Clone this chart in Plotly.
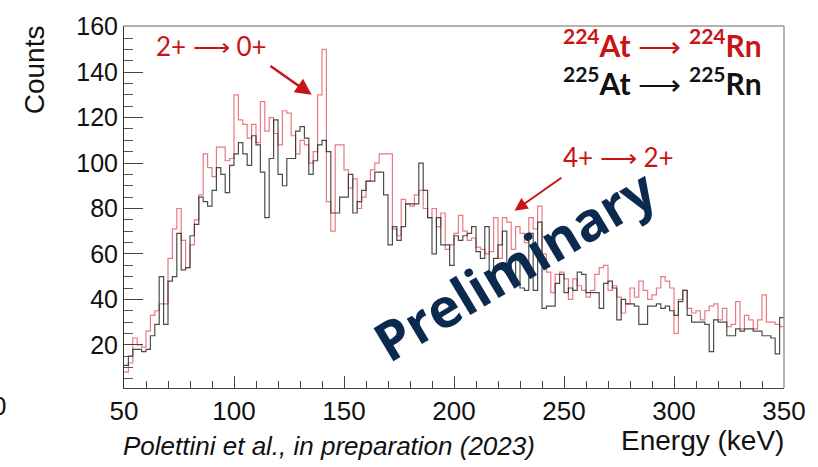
import numpy as np
import plotly.graph_objects as go

# 2 keV bins from 50 to 350 keV
bin_edges = list(range(50, 352, 2))

# 224At -> 224Rn gamma spectrum (counts per bin)
counts_224 = [
    8, 12, 23, 20, 19, 26, 33, 35, 38, 38,
    58, 71, 80, 66, 54, 64, 75, 86, 104, 98,
    94, 107, 107, 101, 102, 130, 119, 117, 111, 117,
    109, 127, 114, 120, 113, 108, 123, 122, 112, 104,
    110, 108, 100, 105, 130, 150, 83, 70, 108, 108,
    97, 89, 93, 80, 85, 92, 97, 100, 104, 104,
    104, 71, 68, 84, 82, 81, 86, 88, 80, 76,
    80, 72, 78, 62, 64, 69, 77, 70, 66, 67,
    63, 62, 60, 61, 76, 58, 76, 74, 62, 72,
    69, 65, 76, 71, 81, 60, 52, 43, 51, 52,
    49, 40, 49, 46, 44, 41, 44, 51, 54, 55,
    44, 46, 41, 34, 38, 45, 41, 48, 44, 40,
    42, 45, 50, 48, 45, 25, 40, 44, 36, 34,
    35, 31, 35, 37, 38, 31, 36, 28, 29, 39,
    27, 33, 31, 27, 31, 42, 30, 30, 29, 28,
]

# 225At -> 225Rn gamma spectrum (counts per bin)
counts_225 = [
    11, 15, 18, 18, 17, 18, 24, 29, 50, 29,
    48, 50, 69, 53, 54, 68, 73, 85, 83, 81,
    88, 98, 95, 87, 99, 104, 109, 104, 99, 112,
    108, 96, 76, 102, 119, 95, 90, 102, 102, 114,
    116, 111, 95, 101, 108, 110, 105, 78, 78, 85,
    85, 95, 78, 83, 88, 92, 92, 96, 96, 86,
    64, 72, 66, 72, 82, 82, 82, 100, 88, 76,
    60, 76, 64, 64, 55, 68, 66, 68, 69, 72,
    61, 58, 72, 52, 58, 64, 70, 55, 50, 58,
    45, 44, 69, 44, 74, 36, 37, 37, 47, 51,
    43, 45, 44, 52, 51, 43, 43, 43, 36, 47,
    48, 45, 31, 40, 38, 38, 37, 29, 29, 37,
    37, 38, 36, 37, 35, 33, 39, 44, 33, 30,
    30, 30, 29, 17, 31, 30, 30, 24, 24, 27,
    26, 27, 27, 26, 26, 24, 24, 23, 16, 32,
]

y_ticks = [20, 40, 60, 80, 100, 120, 140, 160]
x_ticks = [50, 100, 150, 200, 250, 300, 350]

W, H = 818, 467
L, R, T, B = 124, 790, 13, 388


def px(x):
    return (x - L) / (R - L)


def py(y):
    return (B - y) / (B - T)


def step_xy(values):
    xs = list(bin_edges[:-1]) + [bin_edges[-1]]
    ys = list(values) + [values[-1]]
    return xs, ys


fig = go.Figure()
x224, y224 = step_xy(counts_224)
x225, y225 = step_xy(counts_225)
fig.add_trace(go.Scatter(x=x224, y=y224, mode="lines", line_shape="hv",
                         line=dict(color="rgba(228,100,105,0.85)", width=1.2),
                         hoverinfo="skip", showlegend=False))
fig.add_trace(go.Scatter(x=x225, y=y225, mode="lines", line_shape="hv",
                         line=dict(color="rgba(45,45,45,0.85)", width=1.2),
                         hoverinfo="skip", showlegend=False))

label_family = "Liberation Sans, Arial, sans-serif"

fig.update_layout(
    width=W, height=H,
    margin=dict(l=L, r=W - R, t=T, b=H - B),
    paper_bgcolor="white", plot_bgcolor="white",
    xaxis=dict(range=[50, 350], tickvals=x_ticks, ticks="inside", ticklen=12,
               tickcolor="#444", showline=True, linecolor="#444", linewidth=1,
               showgrid=False, zeroline=False, ticklabeloverflow="allow",
               tickfont=dict(family=label_family, size=26, color="#111"),
               minor=dict(dtick=10, ticks="inside", ticklen=7, tickcolor="#444")),
    yaxis=dict(range=[1, 160.3], tickvals=y_ticks, ticks="inside", ticklen=19,
               tickcolor="#444", showline=True, linecolor="#333", linewidth=1,
               showgrid=False, zeroline=False, ticklabeloverflow="allow",
               tickfont=dict(family=label_family, size=25, color="#111"),
               minor=dict(dtick=5, ticks="inside", ticklen=9, tickcolor="#555")),
    showlegend=False,
)

# frame top and right
fig.add_shape(type="line", xref="paper", yref="paper", x0=0, x1=1, y0=1, y1=1,
              line=dict(color="#999", width=1.5))
fig.add_shape(type="line", xref="paper", yref="paper", x0=1, x1=1, y0=0, y1=1,
              line=dict(color="#999", width=1.5))

red = "#c81414"
ann_font = "Lato, Open Sans, sans-serif"

annotations = [
    # axis titles
    dict(text="Counts", x=px(34), y=py(58), textangle=-90,
         font=dict(family=label_family, size=28, color="#111")),
    dict(text="Energy (keV)", x=px(792), y=py(442), xanchor="right",
         font=dict(family=label_family, size=28, color="#111")),
    dict(text="<i>Polettini et al., in preparation (2023)</i>", x=px(121), y=py(448),
         xanchor="left",
         font=dict(family=label_family, size=26, color="#111")),
    # transition labels
    dict(text="2+ ⟶ 0+", x=px(212), y=py(34),
         font=dict(family=ann_font, size=26, color=red)),
    dict(text="4+ ⟶ 2+", x=px(623), y=py(149),
         font=dict(family=ann_font, size=26, color=red)),
    # reaction labels
    dict(text="<b><sup>224</sup>At</b> ⟶ <b><sup>224</sup>Rn</b>", x=px(770), y=py(31),
         xanchor="right", font=dict(family=ann_font, size=30, color=red)),
    dict(text="<b><sup>225</sup>At</b> ⟶ <b><sup>225</sup>Rn</b>", x=px(770), y=py(70),
         xanchor="right", font=dict(family=ann_font, size=30, color="#111")),
    # watermark
    dict(text="<b>Preliminary</b>", x=px(518), y=py(260), textangle=-31,
         font=dict(family="Open Sans, sans-serif", size=54, color="#0c2a50")),
    # clipped label at the left edge
    dict(text="0", x=px(-2), y=py(407), xanchor="center",
         font=dict(family=label_family, size=26, color="#111")),
]
for a in annotations:
    a.setdefault("xref", "paper")
    a.setdefault("yref", "paper")
    a.setdefault("xanchor", "center")
    a.setdefault("yanchor", "middle")
    a.setdefault("showarrow", False)
    fig.add_annotation(**a)

# arrows pointing at the transitions
fig.add_annotation(x=135.3, y=130, ax=115.9, ay=143.2, xref="x", yref="y",
                   axref="x", ayref="y", showarrow=True, arrowhead=2,
                   arrowsize=1.3, arrowwidth=2.5, arrowcolor=red, text="")
fig.add_annotation(x=227.5, y=79, ax=249.5, ay=94, xref="x", yref="y",
                   axref="x", ayref="y", showarrow=True, arrowhead=2,
                   arrowsize=1.3, arrowwidth=2, arrowcolor=red, text="")

fig.write_html("out.html")
